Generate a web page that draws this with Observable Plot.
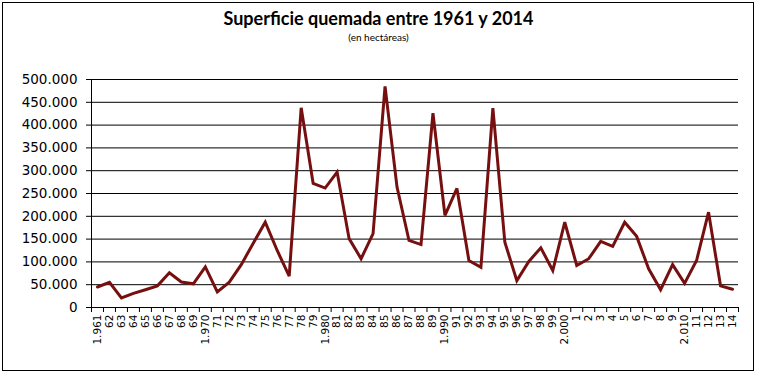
<!DOCTYPE html>
<html>
<head>
<meta charset="utf-8">
<script src="https://cdn.jsdelivr.net/npm/d3@7"></script>
<script src="https://cdn.jsdelivr.net/npm/@observablehq/plot@0.6"></script>
<style>
  html, body { margin: 0; padding: 0; background: #fff; }
  #wrap { position: relative; width: 757px; height: 373px; overflow: hidden; font-family: Lato, "Open Sans", sans-serif; }
  #frame { position: absolute; left: 2px; top: 2px; width: 752px; height: 369px; box-sizing: border-box; border: 1px solid #000; pointer-events: none; }
  #title { height: 24px; padding-top: 6px; line-height: 24px; text-align: center; font-size: 18px; font-weight: bold; color: #000; }
  #subtitle { height: 22px; line-height: 14px; text-align: center; font-size: 10px; color: #000; }
  svg { display: block; }
</style>
</head>
<body>
<div id="wrap">
  <div id="title">Superficie quemada entre 1961 y 2014</div>
  <div id="subtitle">(en hectáreas)</div>
  <div id="chart"></div>
  <div id="frame"></div>
</div>
<script>
const years = d3.range(1961, 2015);
const hectares = [
  45000, 55000, 21000, 31000, 39000, 47500, 76000, 56000, 52000, 89000,
  34000, 55500, 94000, 141000, 187000, 125000, 69000, 438000, 272000, 262000,
  297000, 151000, 107000, 162000, 485000, 264000, 147000, 138000, 426000, 202000,
  261000, 103000, 88000, 437000, 143000, 59000, 101000, 131000, 81000, 187000,
  92000, 107000, 145000, 134000, 187000, 156000, 85000, 39000, 94000, 53000,
  103000, 209000, 47500, 40000
];
const xLabels = [
  "1.961","62","63","64","65","66","67","68","69","1.970",
  "71","72","73","74","75","76","77","78","79","1.980",
  "81","82","83","84","85","86","87","88","89","1.990",
  "91","92","93","94","95","96","97","98","99","2.000",
  "1","2","3","4","5","6","7","8","9","2.010",
  "11","12","13","14"
];
const yTicks = [0, 50000, 100000, 150000, 200000, 250000, 300000, 350000, 400000, 450000, 500000];

const data = years.map((y, i) => ({year: y, value: hectares[i]}));
const labelOf = new Map(years.map((y, i) => [y, xLabels[i]]));
const bounds = years.map(y => y - 0.5).concat([years[years.length - 1] + 0.5]);
const fmt = d3.formatLocale({decimal: ",", thousands: ".", grouping: [3], currency: ["", "€"]}).format(",");

const chart = Plot.plot({
  width: 757,
  height: 321,
  marginLeft: 91,
  marginRight: 19,
  marginTop: 27,
  marginBottom: 66,
  style: {fontFamily: "'DejaVu Sans', sans-serif", color: "#000", background: "transparent"},
  x: {type: "linear", domain: [bounds[0], bounds[bounds.length - 1]]},
  y: {domain: [0, 500000]},
  marks: [
    Plot.ruleY(yTicks, {stroke: "#000", strokeWidth: 1}),
    Plot.ruleX([bounds[0]], {stroke: "#000", strokeWidth: 1}),
    Plot.axisY(yTicks, {tickSize: 5, tickPadding: 9, tickFormat: fmt, fontSize: 13.5, label: null, stroke: "#000"}),
    Plot.axisX(years, {tickSize: 0, tickPadding: 7, tickRotate: -90, tickFormat: d => labelOf.get(d), fontSize: 10.5, label: null}),
    Plot.axisX(bounds, {tickSize: 5, tickFormat: () => "", label: null, stroke: "#000"}),
    Plot.line(data, {x: "year", y: "value", stroke: "#761010", strokeWidth: 3, strokeLinejoin: "miter", strokeMiterlimit: 3})
  ]
});
document.getElementById("chart").appendChild(chart);
</script>
</body>
</html>
